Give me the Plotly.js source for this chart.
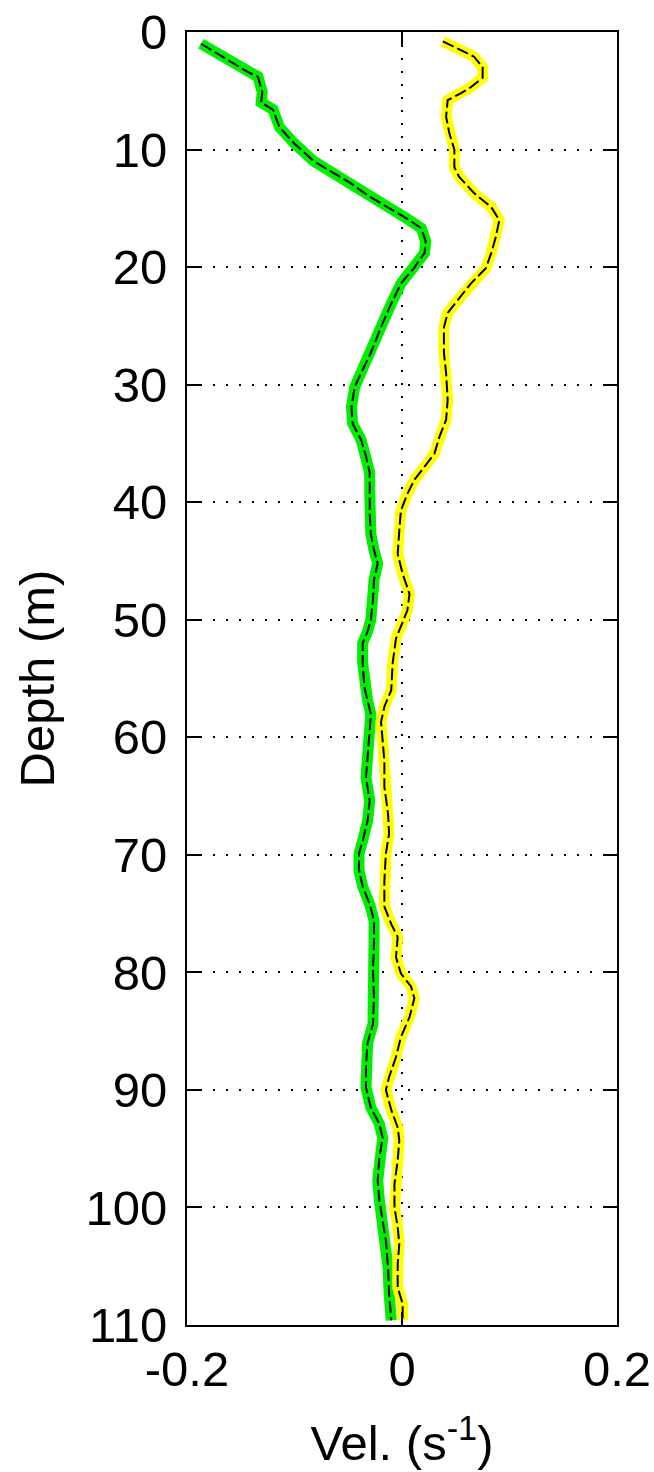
<!DOCTYPE html>
<html>
<head>
<meta charset="utf-8">
<script src="https://cdn.plot.ly/plotly-3.0.1.min.js"></script>
<style>html,body{margin:0;padding:0;background:#fff;}#chart{width:654px;height:1472px;}</style>
</head>
<body>
<div id="chart"></div>
<script>
// Green profile: depth (m) and velocity (s^-1)
const greenDepth = [1,3.4,3.8,5.1,6.0,6.6,8.1,9.5,11.0,11.9,12.9,13.9,15.1,15.9,16.7,17.8,18.8,20.1,21.4,23.1,25.1,27.3,29.0,30.2,31.9,33.3,34.7,36.1,37.5,39.2,41.0,42.7,44.1,45.2,46.6,48.3,50.0,51.0,52.0,53.7,55.7,56.9,58.0,59.4,61.4,63.4,65.4,67.1,68.8,69.9,71.3,72.7,74.2,75.6,77.3,79.8,82.1,84.4,86.0,87.8,89.8,91.5,92.9,94.1,95.7,97.7,99.4,101.1,102.8,105.1,107.3,109.6];
const greenVel = [-0.187,-0.1435,-0.134,-0.130,-0.131,-0.120,-0.114,-0.100,-0.082,-0.066,-0.047,-0.032,-0.010,0.005,0.018,0.022,0.021,0.011,-0.001,-0.010,-0.0195,-0.029,-0.038,-0.044,-0.047,-0.046,-0.038,-0.0335,-0.030,-0.030,-0.030,-0.029,-0.026,-0.0226,-0.026,-0.027,-0.029,-0.032,-0.0366,-0.0366,-0.035,-0.032,-0.029,-0.030,-0.032,-0.0335,-0.030,-0.032,-0.0366,-0.040,-0.040,-0.0366,-0.030,-0.026,-0.026,-0.027,-0.026,-0.027,-0.032,-0.0335,-0.0335,-0.029,-0.021,-0.018,-0.021,-0.0226,-0.021,-0.018,-0.015,-0.013,-0.012,-0.010];

// Yellow profile
const yellowDepth = [0.8,1.4,2.1,3.0,3.9,4.7,5.2,5.8,7.2,8.6,10.0,11.5,12.3,13.7,14.9,16.0,17.4,18.8,20.1,21.4,22.8,23.9,25.1,27.3,29.0,31.3,33.0,34.4,35.9,37.0,38.1,39.3,40.7,42.4,44.4,46.1,47.8,49.2,50.3,51.6,53.7,56.0,57.4,58.7,60.3,62.0,64.2,66.5,68.2,69.9,72.2,74.4,75.9,77.0,78.7,80.1,81.2,82.2,83.8,85.5,87.2,88.9,90.0,91.7,93.2,94.3,96.0,98.0,100.0,101.7,103.1,104.8,106.8,108.2,109.6];
const yellowVel = [0.038,0.052,0.067,0.075,0.075,0.064,0.055,0.0425,0.041,0.044,0.0487,0.0487,0.053,0.067,0.083,0.0905,0.0874,0.083,0.078,0.064,0.052,0.0425,0.039,0.039,0.041,0.0425,0.041,0.035,0.030,0.021,0.0115,0.005,-0.001,-0.0025,-0.004,0.0006,0.007,0.005,0.000,-0.0056,-0.0087,-0.010,-0.0164,-0.0195,-0.018,-0.0164,-0.0164,-0.013,-0.012,-0.015,-0.0164,-0.0164,-0.010,-0.004,-0.0056,-0.001,0.0084,0.0115,0.007,-0.001,-0.0056,-0.012,-0.015,-0.010,-0.004,-0.0025,-0.004,-0.007,-0.007,-0.004,-0.0025,-0.004,-0.004,0.0006,0.0006];

const xTicks = [-0.2, 0, 0.2];
const xTickText = ['-0.2', '0', '0.2'];
const yTicks = [0,10,20,30,40,50,60,70,80,90,100,110];

const FONT = '"Liberation Sans", Arial, Helvetica, sans-serif';

const traces = [
  {x: greenVel, y: greenDepth, mode: 'lines', line: {color: '#00ee00', width: 11}, hoverinfo: 'skip'},
  {x: greenVel, y: greenDepth, mode: 'lines', line: {color: '#000', width: 2, dash: '12px,4px'}, hoverinfo: 'skip'},
  {x: yellowVel, y: yellowDepth, mode: 'lines', line: {color: '#ffff00', width: 11}, hoverinfo: 'skip'},
  {x: yellowVel, y: yellowDepth, mode: 'lines', line: {color: '#000', width: 2, dash: '12px,4px'}, hoverinfo: 'skip'}
];

const layout = {
  width: 654, height: 1472,
  margin: {l: 187, r: 37, t: 32, b: 147},
  paper_bgcolor: '#fff', plot_bgcolor: '#fff',
  showlegend: false,
  font: {family: FONT, size: 49, color: '#000'},
  xaxis: {
    range: [-0.2, 0.2], tickmode: 'array', tickvals: xTicks, ticktext: xTickText,
    showgrid: true, gridcolor: '#000', gridwidth: 2, griddash: '2px,11px',
    zeroline: false, showline: true, linecolor: '#000', linewidth: 2, mirror: 'allticks',
    ticks: 'inside', ticklen: 13, tickwidth: 2, tickcolor: '#000',
    tickfont: {family: FONT, size: 49, color: '#000'},
    title: {text: 'Vel. (s<sup>-1</sup>)', font: {family: FONT, size: 49, color: '#000'}, standoff: 31},
    automargin: false, fixedrange: true
  },
  yaxis: {
    range: [110, 0], tickmode: 'array', tickvals: yTicks,
    showgrid: true, gridcolor: '#000', gridwidth: 2, griddash: '2px,11px',
    zeroline: false, showline: true, linecolor: '#000', linewidth: 2, mirror: 'allticks',
    ticks: 'inside', ticklen: 13, tickwidth: 2, tickcolor: '#000',
    ticklabelstandoff: 8,
    tickfont: {family: FONT, size: 49, color: '#000'},
    title: {text: 'Depth (m)', font: {family: FONT, size: 49, color: '#000'}, standoff: 15},
    automargin: false, fixedrange: true
  }
};

Plotly.newPlot('chart', traces, layout, {staticPlot: true, displayModeBar: false});
</script>
</body>
</html>
